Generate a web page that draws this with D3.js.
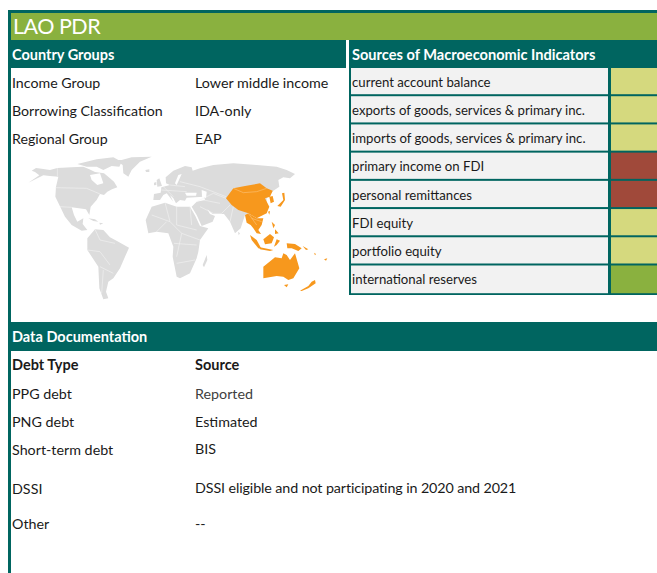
<!DOCTYPE html>
<html>
<head>
<meta charset="utf-8">
<script src="https://cdn.jsdelivr.net/npm/d3@7"></script>
<style>
    html, body { margin: 0; padding: 0; background: #fff; }
    svg { display: block; }
    text { font-family: Lato, "Open Sans", sans-serif; fill: #1a1a1a; }
</style>
</head>
<body>
<div id="chart"></div>
<script>
const title = "LAO PDR";
const groupLabels = ["Income Group", "Borrowing Classification", "Regional Group"];
const groupValues = ["Lower middle income", "IDA-only", "EAP"];
const indicators = ["current account balance", "exports of goods, services & primary inc.",
    "imports of goods, services & primary inc.", "primary income on FDI", "personal remittances",
    "FDI equity", "portfolio equity", "international reserves"];
const indicatorScores = ["mid", "mid", "mid", "low", "low", "mid", "mid", "high"];
const debtTypes = ["PPG debt", "PNG debt", "Short-term debt", "DSSI", "Other"];
const debtSources = ["Reported", "Estimated", "BIS", "DSSI eligible and not participating in 2020 and 2021", "--"];

// map outlines in map units (3 units = 1 px)
const grayLand = [
    [[85,98],[118,76],[105,66],[95,62],[108,54],[125,56],[150,60],[172,54],[215,52],[250,50],[268,58],[285,66],[312,70],[330,85],[342,95],[352,112],[336,118],[322,125],[312,135],[300,132],[290,150],[272,170],[268,195],[258,178],[215,172],[222,195],[232,215],[250,205],[248,222],[262,240],[245,242],[215,225],[195,200],[178,165],[166,140],[168,110],[175,80],[150,78],[130,76]],
    [[365,30],[395,22],[455,20],[420,35],[395,60],[385,80],[370,70],[368,45],[345,30]],
    [[232,42],[290,28],[340,22],[365,35],[358,50],[335,48],[310,60],[290,50],[260,50]],
    [[436,60],[448,58],[448,66],[438,66]],
    [[265,205],[285,208],[295,215],[280,213]],
    [[298,218],[310,220],[300,224]],
    [[262,265],[285,238],[310,240],[330,262],[355,275],[387,293],[375,320],[360,355],[340,385],[325,395],[318,425],[325,445],[310,448],[298,415],[295,350],[262,300]],
    [[437,210],[455,170],[495,158],[530,170],[570,170],[586,198],[600,228],[625,235],[600,270],[595,305],[590,325],[570,370],[540,385],[530,380],[518,320],[520,290],[505,250],[470,245],[445,250]],
    [[460,150],[462,132],[482,128],[484,112],[510,105],[498,100],[497,82],[520,62],[555,48],[575,52],[578,62],[600,55],[640,45],[700,40],[770,45],[830,50],[860,60],[885,72],[870,85],[850,82],[835,90],[838,110],[820,122],[800,145],[800,190],[745,190],[735,195],[722,235],[705,250],[690,215],[672,192],[638,192],[622,178],[630,192],[645,198],[638,215],[605,228],[590,195],[575,170],[590,155],[615,150],[612,140],[560,143],[555,152],[540,150],[528,160],[520,145],[510,135],[520,155],[500,130],[490,135],[480,150]],
    [[470,90],[478,85],[486,108],[472,110]],
    [[462,98],[469,96],[469,105],[462,106]],
    [[714,245],[720,250],[716,256]],
    [[608,345],[620,315],[622,330],[612,352]]
];
const water = [
    [[270,75],[300,70],[310,100],[292,105],[275,90]],
    [[605,120],[620,125],[618,145],[606,140]],
    [[555,128],[590,128],[588,137],[560,137]],
    [[535,75],[545,72],[530,105],[525,100]]
];
const orangeLand = [
    [[678,145],[700,115],[735,108],[780,100],[800,115],[818,122],[810,140],[795,145],[808,170],[800,190],[770,205],[745,190],[715,180],[695,165]],
    [[808,140],[818,138],[822,155],[812,160]],
    [[832,168],[850,150],[846,130],[853,128],[855,150],[842,170]],
    [[804,185],[810,183],[808,194]],
    [[735,195],[745,190],[770,205],[790,205],[785,225],[775,240],[783,252],[770,250],[760,235],[752,225],[740,218]],
    [[815,215],[825,225],[820,235]],
    [[825,238],[836,250],[825,252]],
    [[750,255],[770,270],[785,298],[775,295],[755,270]],
    [[780,292],[820,300],[810,303],[780,298]],
    [[790,268],[810,252],[822,262],[815,280],[795,283]],
    [[830,268],[840,272],[830,285],[822,290]],
    [[860,280],[885,282],[905,295],[895,303],[875,295],[862,295]],
    [[908,288],[925,298],[918,300]],
    [[942,308],[948,312],[945,316]],
    [[972,328],[982,325],[978,332]],
    [[790,350],[815,330],[825,322],[845,325],[850,310],[860,315],[870,330],[885,310],[898,355],[880,385],[865,390],[850,380],[830,378],[790,385]],
    [[852,405],[865,403],[860,412]],
    [[900,422],[925,408],[935,395],[945,390],[947,400],[925,415],[905,423]]
];
const borders = [
    [[166,113],[260,115],[300,132]], [[172,54],[172,78]], [[180,170],[215,172]],
    [[262,300],[300,305],[330,345]], [[285,238],[300,270],[345,280]], [[300,350],[340,370]], [[310,360],[305,430]],
    [[495,158],[510,215],[545,250],[530,320]], [[455,195],[510,215]], [[470,245],[500,215]], [[530,170],[530,225],[590,240]],
    [[570,170],[575,225]], [[522,280],[590,285]], [[530,340],[585,330]], [[545,250],[600,270]],
    [[490,110],[520,140]], [[484,120],[560,125]], [[510,105],[555,110]], [[540,95],[600,110],[678,140]], [[590,155],[640,130],[678,145]],
    [[640,190],[665,190],[690,165]], [[600,170],[640,190]], [[610,150],[660,160]], [[700,170],[690,215]]
];
const orangeBorders = [[[700,115],[730,128],[770,125],[800,115]], [[745,190],[770,225]], [[755,205],[785,215]]];

const width = 657, height = 573;
const teal = "#006560";

const scoreColor = d3.scaleOrdinal()
    .domain(["low", "mid", "high"])
    .range(["#A0493A", "#D5D97E", "#8AB13F"]);

const svg = d3.select("#chart").append("svg")
    .attr("width", width)
    .attr("height", height);

function band(x, y, w, h, color) {
    svg.append("rect").attr("x", x).attr("y", y).attr("width", w).attr("height", h).attr("fill", color);
}

function label(x, y, str, size, weight, color) {
    return svg.append("text").attr("x", x).attr("y", y).text(str)
        .attr("font-size", size).attr("font-weight", weight || 400)
        .style("fill", color || null);
}

// frame and header bands
band(8, 10, 649, 3, teal);
band(8, 10, 3, 563, teal);
band(11, 13, 646, 27, "#8AB13F");
band(11, 40, 335, 28, teal);
band(349, 40, 308, 28, teal);
band(11, 322, 646, 29, teal);

label(13, 34, title, 21.5, 400, "#fff").attr("letter-spacing", -0.5);
label(12, 60, "Country Groups", 14.5, 700, "#fff");
label(352, 60, "Sources of Macroeconomic Indicators", 14.6, 700, "#fff");
label(12, 342, "Data Documentation", 14.5, 700, "#fff");

// country group rows
const groupY = d3.scalePoint().domain(groupLabels).range([88, 144]);
svg.selectAll(".group-label").data(groupLabels).enter().append("text")
    .attr("x", 12).attr("y", d => groupY(d)).attr("font-size", 14.2).text(d => d);
svg.selectAll(".group-value").data(groupValues).enter().append("text")
    .attr("x", 195).attr("y", (d, i) => groupY(groupLabels[i])).attr("font-size", 14.3).text(d => d);

// indicator table
const rowY = d3.scaleBand().domain(indicators).range([68, 293.7]);
band(349, 68, 308, 227, teal);
svg.selectAll(".row-bg").data(indicators).enter().append("rect")
    .attr("x", 351).attr("y", d => rowY(d))
    .attr("width", 257).attr("height", (d, i) => rowY.bandwidth() - (i === 7 ? 0.5 : 2))
    .attr("fill", "#F2F2F2");
svg.selectAll(".row-score").data(indicatorScores).enter().append("rect")
    .attr("x", 611).attr("y", (d, i) => rowY(indicators[i]))
    .attr("width", 46).attr("height", (d, i) => rowY.bandwidth() - (i === 7 ? 0.5 : 2))
    .attr("fill", d => scoreColor(d));
svg.selectAll(".row-text").data(indicators).enter().append("text")
    .attr("x", 352).attr("y", d => rowY(d) + 18.7)
    .attr("font-size", 13.2).text(d => d);

// map
const mapX = d3.scaleLinear().domain([0, 1035]).range([0, 345]);
const mapY = d3.scaleLinear().domain([0, 510]).range([150, 320]);
const outline = d3.line().x(d => mapX(d[0])).y(d => mapY(d[1]));
const closed = pts => outline(pts) + "Z";

const map = svg.append("g").style("filter", "blur(0.35px)");
map.selectAll(".land").data(grayLand).enter().append("path")
    .attr("d", closed).attr("fill", "#DCDCDC");
map.selectAll(".water").data(water).enter().append("path")
    .attr("d", closed).attr("fill", "#fff");
map.selectAll(".border").data(borders).enter().append("path")
    .attr("d", outline).attr("fill", "none").attr("stroke", "#f4f4f4").attr("stroke-width", 0.6);
map.selectAll(".region").data(orangeLand).enter().append("path")
    .attr("d", closed).attr("fill", "#F7981D");
map.selectAll(".region-border").data(orangeBorders).enter().append("path")
    .attr("d", outline).attr("fill", "none").attr("stroke", "#fbc57c").attr("stroke-width", 0.6);

// documentation rows
const docY = d3.scaleOrdinal().domain(debtTypes).range([399, 427, 455, 494, 529]);
const sourceY = d3.scaleOrdinal().domain(debtTypes).range([399, 427, 454, 493, 529]);
label(12, 370, "Debt Type", 14.5, 700);
label(195, 370, "Source", 14.5, 700);
svg.selectAll(".doc-type").data(debtTypes).enter().append("text")
    .attr("x", 12).attr("y", d => docY(d)).attr("font-size", 14.3).text(d => d);
svg.selectAll(".doc-source").data(debtSources).enter().append("text")
    .attr("x", 195).attr("y", (d, i) => sourceY(debtTypes[i])).attr("font-size", 14.3)
    .attr("letter-spacing", d => d.length > 20 ? -0.11 : 0)
    .style("fill", d => d === "Reported" ? "#404040" : null).text(d => d);
</script>
</body>
</html>
